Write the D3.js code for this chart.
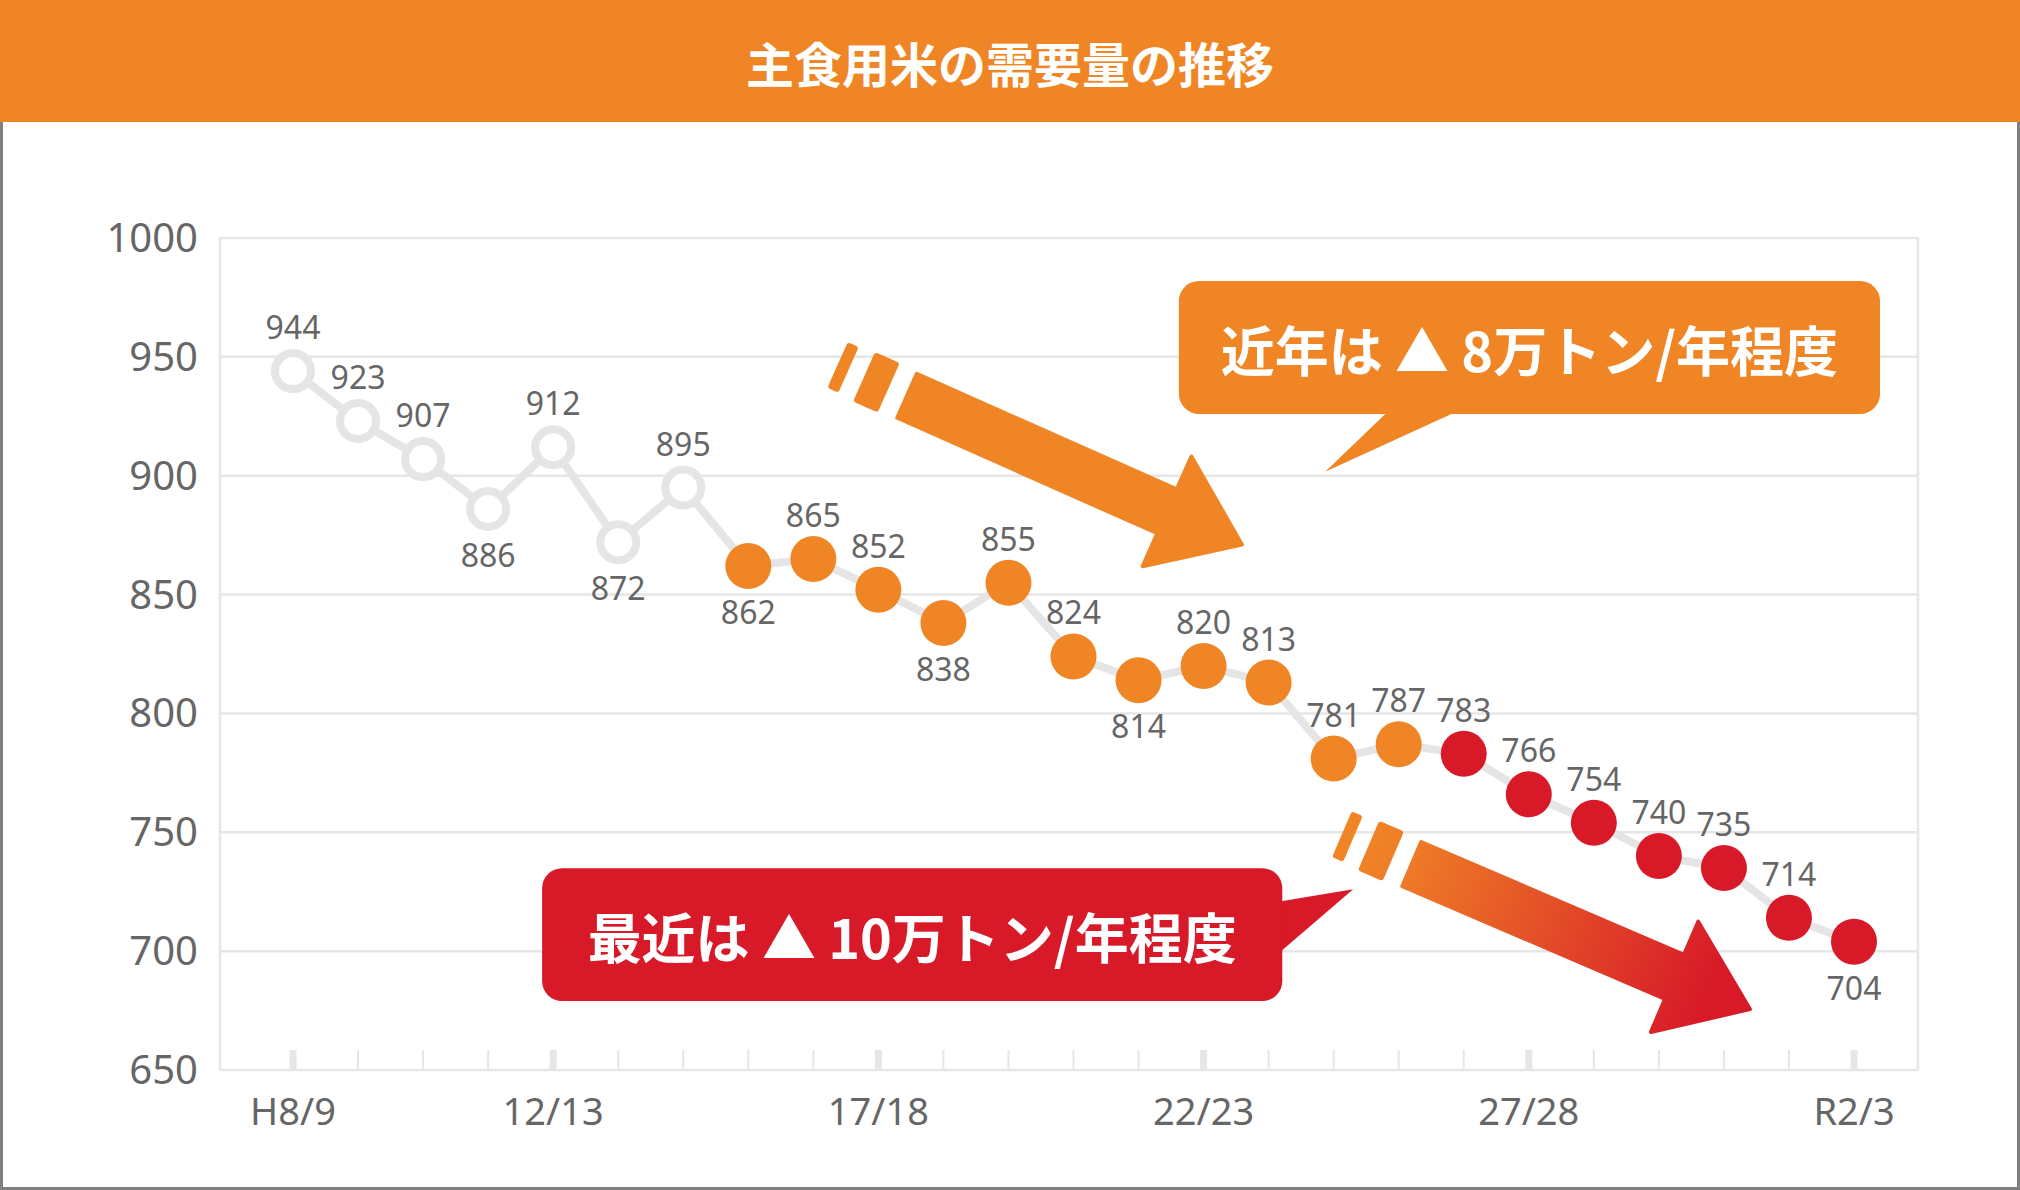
<!DOCTYPE html>
<html><head><meta charset="utf-8">
<script src="https://cdn.jsdelivr.net/npm/d3@7/dist/d3.min.js"></script>
<style>html,body{margin:0;padding:0;background:#fff;} svg{display:block;}</style>
</head><body>
<script>
// ---- data ----
const chartTitle = "主食用米の需要量の推移";
const years = ["H8/9","9/10","10/11","11/12","12/13","13/14","14/15","15/16","16/17","17/18",
  "18/19","19/20","20/21","21/22","22/23","23/24","24/25","25/26","26/27","27/28",
  "28/29","29/30","30/R1","R1/2","R2/3"];
const demand = [944,923,907,886,912,872,895,862,865,852,838,855,824,814,820,813,781,787,783,766,754,740,735,714,704];
const phase = ["past","past","past","past","past","past","past",
  "mid","mid","mid","mid","mid","mid","mid","mid","mid","mid","mid",
  "late","late","late","late","late","late","late"];
const labelSide = ["above","above","above","below","above","below","above","below","above","above",
  "below","above","above","below","above","above","above","above","above","above",
  "above","above","above","above","below"];
const xTickLabels = ["H8/9","12/13","17/18","22/23","27/28","R2/3"];
const yTicks = [650,700,750,800,850,900,950,1000];
const callout1Text = "近年は ▲ 8万トン/年程度";
const callout2Text = "最近は ▲ 10万トン/年程度";

// ---- layout / style ----
const W = 2020, H = 1190;
const ORANGE = "#F08526", RED = "#D71928", GRID = "#e6e6e6", TXT = "#666666";
const FONT = "'Noto Sans CJK JP','Noto Sans',sans-serif";
const NUMFONT = "'Noto Sans','Noto Sans CJK JP',sans-serif";

const svg = d3.select("body").append("svg").attr("width", W).attr("height", H)
  .style("font-family", FONT);

const x = d3.scalePoint().domain(years).range([293, 1854]);
const xi = i => 293 + i * (1854 - 293) / (years.length - 1); // fractional index for annotations
const y = d3.scaleLinear().domain([650, 1000]).range([1070, 238]);

// title band
svg.append("rect").attr("x",0).attr("y",0).attr("width",W).attr("height",122).attr("fill",ORANGE);
svg.append("text").attr("x", W/2).attr("y", 62).attr("text-anchor","middle")
  .attr("dominant-baseline","central").attr("fill","#fff").attr("font-size",48)
  .attr("font-weight",700).text(chartTitle);

// outer frame
svg.append("path").attr("d", `M1.5,122 V1188.5 H2018.5 V122`).attr("fill","none")
  .attr("stroke","#808080").attr("stroke-width",3);

const plotL = 220, plotR = 1918;
// gridlines
svg.append("g").selectAll("line").data(yTicks.filter(t => t > 650 && t < 1000)).join("line")
  .attr("x1", plotL).attr("x2", plotR).attr("y1", d => y(d)).attr("y2", d => y(d))
  .attr("stroke", GRID).attr("stroke-width", 2.5);
// frame
svg.append("rect").attr("x", plotL).attr("y", y(1000)).attr("width", plotR - plotL)
  .attr("height", y(650) - y(1000)).attr("fill","none").attr("stroke",GRID).attr("stroke-width",2.5);

// y axis labels
svg.append("g").selectAll("text").data(yTicks).join("text")
  .attr("x", 198).attr("y", d => y(d) + 14).attr("text-anchor","end")
  .style("font-family", NUMFONT).attr("font-size", 40).attr("fill", TXT).text(d => d);

// x ticks
svg.append("g").selectAll("line").data(years).join("line")
  .attr("x1", d => x(d)).attr("x2", d => x(d)).attr("y1", y(650)).attr("y2", y(650) - 20)
  .attr("stroke", GRID).attr("stroke-width", d => xTickLabels.includes(d) ? 7 : 2);
svg.append("g").selectAll("text").data(xTickLabels).join("text")
  .attr("x", d => x(d)).attr("y", 1125).attr("text-anchor","middle")
  .style("font-family", NUMFONT).attr("font-size", 38).attr("fill", TXT).text(d => d);

// arrows (annotation) : origin/tip in data space
function drawArrow(origin, tip, fill, gradId) {
  const ox = xi(origin[0]), oy = y(origin[1]), tx = xi(tip[0]), ty = y(tip[1]);
  const ang = Math.atan2(ty - oy, tx - ox) * 180 / Math.PI;
  const L = Math.hypot(tx - ox, ty - oy);
  const g = svg.append("g").attr("transform", `translate(${ox},${oy}) rotate(${ang})`);
  let paint = fill;
  if (gradId) {
    const gr = svg.append("defs").append("linearGradient").attr("id", gradId)
      .attr("gradientUnits","userSpaceOnUse").attr("x1",-60).attr("y1",0).attr("x2",L-40).attr("y2",0);
    gr.append("stop").attr("offset","0").attr("stop-color",ORANGE);
    gr.append("stop").attr("offset","0.15").attr("stop-color","#EE7A27");
    gr.append("stop").attr("offset","1").attr("stop-color",RED);
    paint = `url(#${gradId})`;
  }
  const hb = L - 82;
  const pts = [[0,-24],[hb,-24],[hb,-60],[L,0],[hb,60],[hb,24],[0,24]];
  g.append("path").attr("d", "M" + pts.map(p => p.join(",")).join("L") + "Z")
    .attr("fill", paint).attr("stroke", paint).attr("stroke-width", 4).attr("stroke-linejoin","round");
  g.append("rect").attr("x",-47).attr("y",-27).attr("width",27).attr("height",54).attr("rx",3)
    .attr("fill", paint);
  g.append("rect").attr("x",-76).attr("y",-25).attr("width",12).attr("height",50).attr("rx",3)
    .attr("fill", paint);
}
drawArrow([9.44, 933.6], [14.59, 871], ORANGE, null);
drawArrow([17.2, 736.6], [22.4, 675.6], ORANGE, "arrowGrad");

// line
svg.append("path").datum(demand)
  .attr("d", d3.line().x((d,i) => x(years[i])).y(d => y(d)))
  .attr("fill","none").attr("stroke","#e5e5e5").attr("stroke-width",8).attr("stroke-linejoin","round");

// points
const pts = demand.map((v,i) => ({v, i, ph: phase[i], side: labelSide[i]}));
svg.append("g").selectAll("circle").data(pts).join("circle")
  .attr("cx", d => x(years[d.i])).attr("cy", d => y(d.v))
  .attr("r", d => d.ph === "past" ? 18 : 23)
  .attr("fill", d => d.ph === "past" ? "#fff" : d.ph === "mid" ? ORANGE : RED)
  .attr("stroke", d => d.ph === "past" ? "#e5e5e5" : "none")
  .attr("stroke-width", 8);

// value labels
svg.append("g").selectAll("text").data(pts).join("text")
  .attr("x", d => x(years[d.i])).attr("y", d => y(d.v) + (d.side === "above" ? -32 : 58))
  .attr("text-anchor","middle").style("font-family", NUMFONT).attr("font-size",32)
  .attr("fill",TXT).text(d => d.v);

// callouts
function callout(box, tail, color, text) {
  const x0 = xi(box[0]), x1 = xi(box[1]), y0 = y(box[2]), y1 = y(box[3]);
  const g = svg.append("g");
  g.append("path").attr("d", "M" + tail.map(p => [xi(p[0]), y(p[1])].join(",")).join("L") + "Z")
    .attr("fill", color);
  g.append("rect").attr("x", x0).attr("y", y0).attr("width", x1 - x0).attr("height", y1 - y0)
    .attr("rx", 20).attr("fill", color);
  g.append("text").attr("x", (x0 + x1) / 2).attr("y", (y0 + y1) / 2 + 1)
    .attr("text-anchor","middle").attr("dominant-baseline","central")
    .attr("font-size", 54).attr("font-weight", 700).attr("fill","#fff").text(text);
}
callout([13.62, 24.40, 981.9, 926], [[16.87, 928], [15.87, 901.7], [17.97, 928]], ORANGE, callout1Text);
callout([3.83, 15.21, 734.9, 679], [[15.1, 720.6], [16.3, 726], [15.1, 697.9]], RED, callout2Text);
</script>
</body></html>
